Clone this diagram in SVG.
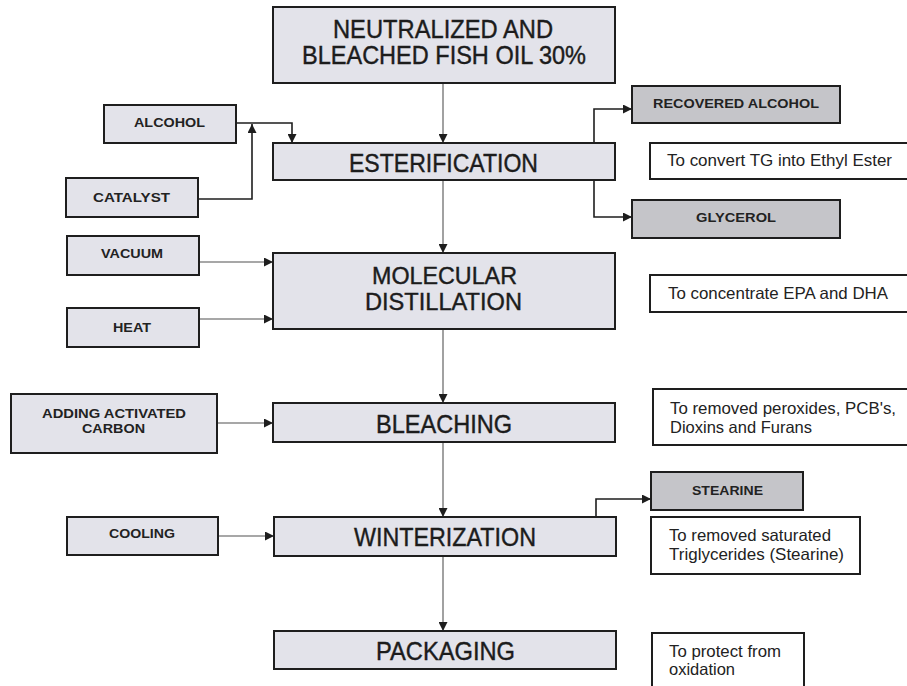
<svg xmlns="http://www.w3.org/2000/svg" width="907" height="686" viewBox="0 0 907 686">
<style>
.box{fill:#e3e3ea;stroke:#1e1e1e;stroke-width:2}
.dark{fill:#c5c5c9;stroke:#1e1e1e;stroke-width:2}
.note{fill:#ffffff;stroke:#1e1e1e;stroke-width:2}
.big{font-family:"Liberation Sans",Arial,sans-serif;font-size:25px;fill:#1c1c1c;stroke:#1c1c1c;stroke-width:0.4;text-anchor:middle}
.mid{font-size:23px}
.sm{font-family:"Liberation Sans",Arial,sans-serif;font-size:12.5px;font-weight:bold;fill:#222;text-anchor:middle}
.desc{font-family:"Liberation Sans",Arial,sans-serif;font-size:16.5px;fill:#222}
.g{fill:none;stroke:#8a8a8a;stroke-width:1.6}
.k{fill:none;stroke:#1e1e1e;stroke-width:1.6}
</style>
<defs>
<marker id="ah" viewBox="0 0 10 10" refX="10" refY="5" markerWidth="9" markerHeight="9" markerUnits="userSpaceOnUse" orient="auto">
<path d="M0,0 L10,5 L0,10 z" fill="#1e1e1e"/>
</marker>
</defs>
<rect width="907" height="686" fill="#ffffff"/>

<g id="connectors">
<path class="g" d="M443,83 V143" marker-end="url(#ah)"/>
<path class="g" d="M443,180 V253" marker-end="url(#ah)"/>
<path class="g" d="M443,329 V403" marker-end="url(#ah)"/>
<path class="g" d="M443,442 V517" marker-end="url(#ah)"/>
<path class="g" d="M443,556 V631" marker-end="url(#ah)"/>
<path class="g" d="M199,262 H273" marker-end="url(#ah)"/>
<path class="g" d="M199,319 H273" marker-end="url(#ah)"/>
<path class="g" d="M217,423 H273" marker-end="url(#ah)"/>
<path class="g" d="M218,536 H274" marker-end="url(#ah)"/>
<path class="k" d="M236,123 H292 V143" marker-end="url(#ah)"/>
<path class="k" d="M198,199 H252 V124" marker-end="url(#ah)"/>
<path class="k" d="M594,143 V109 H632" marker-end="url(#ah)"/>
<path class="k" d="M594,180 V217 H632" marker-end="url(#ah)"/>
<path class="k" d="M596,517 V499 H651" marker-end="url(#ah)"/>
</g>

<g id="fish-oil">
<rect class="box" x="273" y="7" width="342" height="76"/>
<text class="big" x="443" y="38" textLength="220" lengthAdjust="spacingAndGlyphs">NEUTRALIZED AND</text>
<text class="big" x="444" y="64" textLength="284" lengthAdjust="spacingAndGlyphs">BLEACHED FISH OIL 30%</text>
</g>
<g id="esterification">
<rect class="box" x="273" y="143" width="342" height="37"/>
<text class="big" x="443.5" y="172" textLength="189" lengthAdjust="spacingAndGlyphs">ESTERIFICATION</text>
</g>
<g id="molecular-distillation">
<rect class="box" x="273" y="253" width="342" height="76"/>
<text class="big mid" x="444.5" y="284" textLength="145" lengthAdjust="spacingAndGlyphs">MOLECULAR</text>
<text class="big mid" x="443.5" y="310" textLength="157" lengthAdjust="spacingAndGlyphs">DISTILLATION</text>
</g>
<g id="bleaching">
<rect class="box" x="273" y="403" width="342" height="39"/>
<text class="big" x="444" y="433" textLength="136" lengthAdjust="spacingAndGlyphs">BLEACHING</text>
</g>
<g id="winterization">
<rect class="box" x="274" y="517" width="342" height="39"/>
<text class="big" x="445" y="546" textLength="182" lengthAdjust="spacingAndGlyphs">WINTERIZATION</text>
</g>
<g id="packaging">
<rect class="box" x="274" y="631" width="342" height="38"/>
<text class="big" x="445.5" y="660" textLength="139" lengthAdjust="spacingAndGlyphs">PACKAGING</text>
</g>

<g id="alcohol">
<rect class="box" x="104" y="105" width="132" height="38"/>
<text class="sm" x="169.5" y="127" textLength="71" lengthAdjust="spacingAndGlyphs">ALCOHOL</text>
</g>
<g id="catalyst">
<rect class="box" x="66" y="178" width="132" height="39"/>
<text class="sm" x="131.5" y="202" textLength="77" lengthAdjust="spacingAndGlyphs">CATALYST</text>
</g>
<g id="vacuum">
<rect class="box" x="67" y="236" width="132" height="39"/>
<text class="sm" x="132" y="258" textLength="62" lengthAdjust="spacingAndGlyphs">VACUUM</text>
</g>
<g id="heat">
<rect class="box" x="67" y="308" width="132" height="39"/>
<text class="sm" x="132" y="332" textLength="38" lengthAdjust="spacingAndGlyphs">HEAT</text>
</g>
<g id="activated-carbon">
<rect class="box" x="11" y="394" width="206" height="59"/>
<text class="sm" x="114" y="418" textLength="144" lengthAdjust="spacingAndGlyphs">ADDING ACTIVATED</text>
<text class="sm" x="113.5" y="433" textLength="63" lengthAdjust="spacingAndGlyphs">CARBON</text>
</g>
<g id="cooling">
<rect class="box" x="67" y="517" width="151" height="38"/>
<text class="sm" x="142" y="538" textLength="66" lengthAdjust="spacingAndGlyphs">COOLING</text>
</g>
<g id="recovered-alcohol">
<rect class="dark" x="632" y="86" width="208" height="37"/>
<text class="sm" x="736" y="108" textLength="166" lengthAdjust="spacingAndGlyphs">RECOVERED ALCOHOL</text>
</g>
<g id="glycerol">
<rect class="dark" x="632" y="200" width="208" height="38"/>
<text class="sm" x="736" y="222" textLength="80" lengthAdjust="spacingAndGlyphs">GLYCEROL</text>
</g>
<g id="stearine">
<rect class="dark" x="651" y="472" width="152" height="38"/>
<text class="sm" x="727.5" y="495" textLength="71" lengthAdjust="spacingAndGlyphs">STEARINE</text>
</g>

<g id="note-esterification">
<rect class="note" x="650" y="143" width="262" height="36"/>
<text class="desc" x="667" y="166" textLength="225" lengthAdjust="spacingAndGlyphs">To convert TG into Ethyl Ester</text>
</g>
<g id="note-distillation">
<rect class="note" x="650" y="275" width="262" height="37"/>
<text class="desc" x="668" y="299" textLength="220" lengthAdjust="spacingAndGlyphs">To concentrate EPA and DHA</text>
</g>
<g id="note-bleaching">
<rect class="note" x="653" y="389" width="259" height="56"/>
<text class="desc" x="670" y="414" textLength="226" lengthAdjust="spacingAndGlyphs">To removed peroxides, PCB's,</text>
<text class="desc" x="670" y="433" textLength="142" lengthAdjust="spacingAndGlyphs">Dioxins and Furans</text>
</g>
<g id="note-winterization">
<rect class="note" x="651" y="517" width="209" height="57"/>
<text class="desc" x="669" y="541" textLength="162" lengthAdjust="spacingAndGlyphs">To removed saturated</text>
<text class="desc" x="669" y="560" textLength="175" lengthAdjust="spacingAndGlyphs">Triglycerides (Stearine)</text>
</g>
<g id="note-packaging">
<rect class="note" x="652" y="633" width="152" height="60"/>
<text class="desc" x="669" y="657" textLength="112" lengthAdjust="spacingAndGlyphs">To protect from</text>
<text class="desc" x="669" y="675" textLength="66" lengthAdjust="spacingAndGlyphs">oxidation</text>
</g>
</svg>
